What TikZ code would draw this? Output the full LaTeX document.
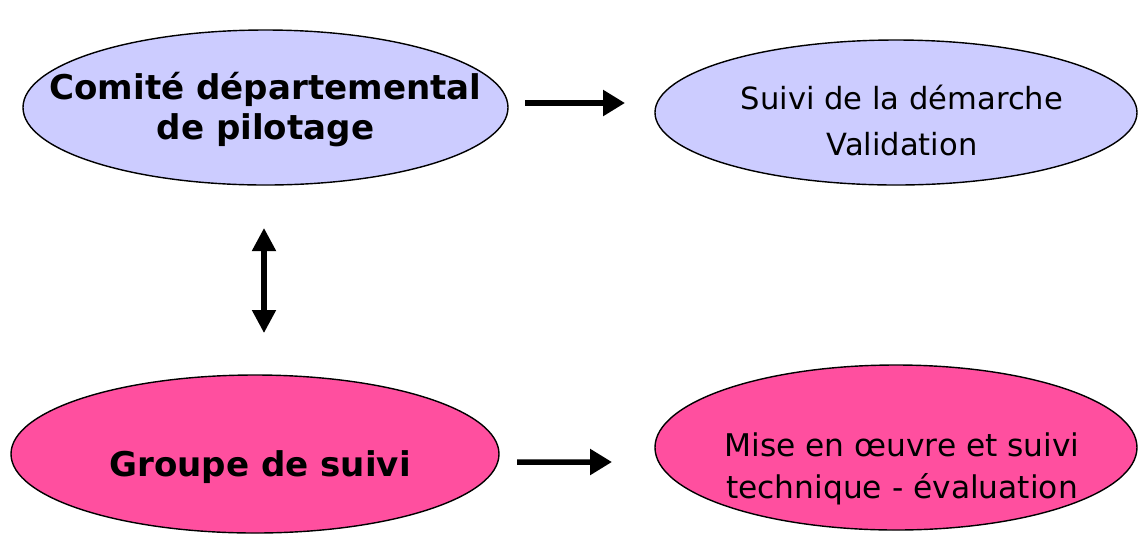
\documentclass[tikz,border=0pt]{standalone}
\usepackage{fontspec}
\setmainfont{DejaVu Sans}
\usetikzlibrary{shapes.geometric,arrows.meta}
\definecolor{lavande}{RGB}{204,204,255}
\definecolor{fuchsia}{RGB}{255,79,159}

\begin{document}
\begin{tikzpicture}[
  bulle/.style={draw,ellipse,inner sep=0pt,outer sep=0pt,line width=.4pt},
  gras/.style={align=center,font=\bfseries\fontsize{9.7}{11.4}\selectfont},
  fin/.style={align=center,font=\fontsize{8.6}{13.1}\selectfont},
  fleche/.style={line width=.055cm,-{Triangle[length=.22cm,width=.25cm]}},
  allerretour/.style={line width=.05cm,{Triangle[length=.23cm,width=.23cm]}-{Triangle[length=.23cm,width=.23cm]}}
]
\useasboundingbox (0,0) rectangle (11.39,-5.36);

\node[bulle,fill=lavande,minimum width=4.85cm,minimum height=1.55cm] (comite) at (2.655,-1.075) {};
\node[bulle,fill=lavande,minimum width=4.82cm,minimum height=1.45cm] (suivi)  at (8.96,-1.125)  {};
\node[bulle,fill=fuchsia,minimum width=4.88cm,minimum height=1.58cm] (groupe) at (2.55,-4.54)   {};
\node[bulle,fill=fuchsia,minimum width=4.82cm,minimum height=1.65cm] (mise)   at (8.96,-4.475)  {};

\node[gras] (comite txt) at (2.655,-1.10) {Comité départemental\\de pilotage};
\node[fin,font=\fontsize{8.7}{13.1}\selectfont] (suivi txt) at (9.02,-1.20) {Suivi de la démarche\\Validation};
\node[gras] (groupe txt) at (2.60,-4.67)  {Groupe de suivi};
\node[fin,font=\fontsize{8.9}{11.9}\selectfont] (mise txt) at (9.02,-4.69) {Mise en œuvre et suivi\\technique - évaluation};

\draw[fleche]      ([shift={(.17,.045)}]comite.east)  -- ([shift={(-.30,.095)}]suivi.west);
\draw[fleche]      ([shift={(.18,-.08)}]groupe.east)  -- ([shift={(-.43,-.145)}]mise.west);
\draw[allerretour] ([shift={(-.015,-.43)}]comite.south) -- ([shift={(.09,.42)}]groupe.north);
\end{tikzpicture}
\end{document}
